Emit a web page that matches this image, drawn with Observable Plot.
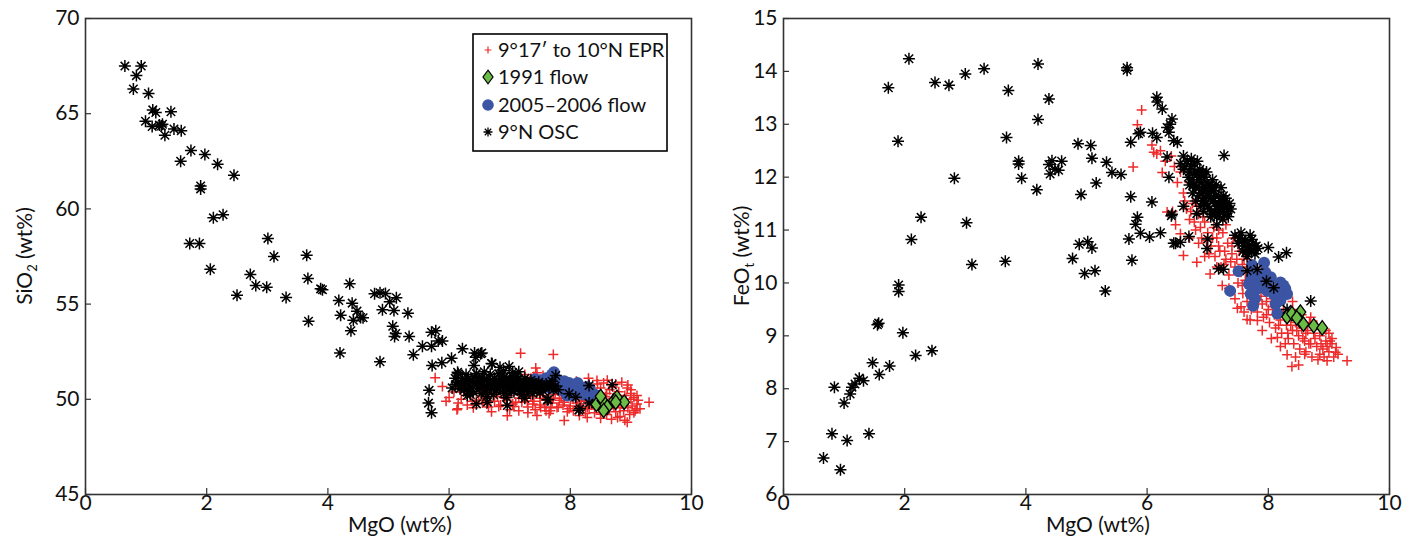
<!DOCTYPE html>
<html><head><meta charset="utf-8">
<script src="https://cdn.jsdelivr.net/npm/d3@7"></script>
<script src="https://cdn.jsdelivr.net/npm/@observablehq/plot@0.6"></script>
<style>
html,body{margin:0;padding:0;background:#fff;}
#wrap{display:flex;width:1415px;height:542px;overflow:hidden;}
svg{display:block;}
</style></head><body><div id="wrap"></div>
<script>
const FONT = "Lato, 'Open Sans', 'DejaVu Sans', sans-serif";
const mgoTicks = [0, 2, 4, 6, 8, 10];
const sio2Ticks = [45, 50, 55, 60, 65, 70];
const feoTicks = [6, 7, 8, 9, 10, 11, 12, 13, 14, 15];
const seriesNames = ["9°17′ to 10°N EPR", "1991 flow", "2005–2006 flow", "9°N OSC"];
const xLabel = "MgO (wt%)";

// ---- Left panel: [MgO, SiO2] ----
const eprSiO2 = [
[7.18,52.42],[7.72,52.35],[9.30,49.85],[5.77,51.13],[5.89,50.67],[6.13,49.45],[6.14,49.5],[7.90,48.89],[8.94,48.8],[7.43,51.65],
[7.45,51.4],[7.40,51.2],[7.18,50.25],[7.34,50.79],[6.49,49.94],[6.63,49.94],[6.82,49.62],[7.07,49.62],[7.15,49.4],[7.67,49.4],
[7.78,49.57],[8.05,49.4],[8.28,49.05],[8.31,49.49],[8.44,50.99],[8.61,51.0],[8.94,50.6],[9.0,50.3],[9.1,49.5],[8.78,49.05],
[8.5,49.22],[7.51,49.57],[7.29,49.9],[6.24,50.38],[6.30,50.8],[6.08,50.38],[6.96,49.14],[9.07,49.4],
[6.2,50.0],[6.3,49.7],[6.35,50.3],[6.45,49.95],[6.5,50.4],[6.55,49.8],[6.6,50.1],[6.65,49.6],[6.7,50.3],[6.75,49.9],
[6.8,50.15],[6.85,49.7],[6.9,50.4],[6.95,49.95],[7.0,50.2],[7.05,49.75],[7.1,50.5],[7.15,50.05],[7.2,49.85],[7.25,50.35],
[7.3,49.6],[7.35,50.15],[7.4,49.9],[7.45,50.4],[7.5,49.7],[7.55,50.2],[7.6,49.95],[7.65,50.45],[7.7,49.8],[7.75,50.25],
[7.8,49.6],[7.85,50.05],[7.9,49.85],[7.95,50.3],[8.0,49.65],[8.05,50.0],[8.1,49.8],[8.15,50.15],[8.2,49.55],[8.25,49.95],
[8.3,50.25],[8.35,49.7],[8.4,50.45],[8.45,49.9],[8.5,50.6],[8.55,49.65],[8.6,50.3],[8.65,49.5],[8.7,50.05],[8.75,49.35],
[8.8,50.4],[8.85,49.75],[8.9,50.2],[8.95,49.55],[9.0,50.0],[9.05,49.3],[9.1,49.75],[9.15,49.5],[8.4,49.3],[8.6,49.2],
[8.82,49.1],[8.98,49.2],[8.5,49.0],[7.3,49.3],[7.0,49.45],[6.7,49.35],[6.4,49.55],[6.15,49.8],[7.6,49.4],[7.95,49.35],
[8.25,49.25],[6.9,50.6],[7.2,50.65],[7.5,50.55],[7.8,50.75],[8.1,50.95],[8.3,51.1],[8.55,50.85],[8.7,50.65],[8.85,50.9],
[9.0,50.5],[6.55,50.55],[6.25,50.45],[7.1,51.0],[7.35,51.1],[7.55,51.25],[7.25,51.3],[6.0,50.1],[5.95,49.9],[8.15,49.15],
[8.68,48.95],[8.9,48.9],[7.45,49.15],[8.45,50.8],[8.75,50.8],[8.95,50.75],[9.1,50.2],[8.2,50.7],[7.65,49.25],[8.62,49.75],
[8.72,49.6],[8.88,49.4],[8.52,49.45],[8.36,49.95],[8.8,50.1],[9.02,49.65],
[7.38,49.75],[7.58,49.6],[7.72,50.05],[7.88,49.7],[8.02,50.2],[8.18,49.9],[8.28,49.6],[8.42,50.05],[8.58,50.15],[8.68,49.85],
[8.82,49.55],[8.92,50.0],[9.05,50.1],[8.48,49.55],[8.35,50.45],[7.98,49.5],[7.82,49.95],[7.5,50.05],[7.28,50.15],[7.1,49.85],
[6.92,50.05],[6.62,49.75],[6.38,49.9],[8.78,49.95],[8.65,50.5],[9.12,49.95],[8.12,49.6],[7.68,49.55],[7.42,49.45],[8.55,49.3]
];
const flow1991SiO2 = [
[8.43,49.73],[8.53,49.94],[8.61,49.59],[8.55,49.41],[8.72,49.94],[8.77,50.1],[8.89,49.85],[8.5,50.15],[8.75,49.85]
];
const flow2005SiO2 = [
[7.45,50.85],[7.5,51.0],[7.55,50.75],[7.6,51.1],[7.65,50.9],[7.7,51.3],[7.73,51.42],[7.75,51.1],[7.78,50.8],[7.8,51.0],
[7.85,50.7],[7.9,50.95],[7.95,50.6],[7.98,50.85],[8.0,50.45],[8.05,50.7],[8.1,50.55],[8.12,50.85],[8.15,50.35],[8.2,50.6],
[8.25,50.45],[8.3,50.3],[8.32,50.55],[7.62,50.65],[7.88,50.45],[8.05,50.2],[7.42,51.05],[7.68,50.6],[8.35,50.0],[7.95,50.2],[8.4,50.25],
[7.58,50.95],[7.84,50.9],[8.08,50.4],[8.22,50.25],[7.92,50.75],[8.28,50.65]
];
const oscSiO2 = [
[0.65,67.5],[0.92,67.5],[0.84,67.0],[0.79,66.3],[1.04,66.06],[1.11,65.2],[1.16,65.06],[1.41,65.1],[0.99,64.6],[1.10,64.33],
[1.22,64.4],[1.27,64.45],[1.25,64.35],[1.31,63.87],[1.46,64.2],[1.58,64.1],[1.74,63.07],[1.97,62.86],[1.57,62.5],[2.18,62.35],
[2.45,61.77],[1.90,61.2],[1.90,61.05],[2.11,59.53],[2.27,59.69],[1.72,58.18],[1.88,58.18],[3.01,58.45],[3.11,57.5],[3.65,57.57],
[2.06,56.83],[2.72,56.55],[2.81,55.98],[2.99,55.89],[2.50,55.47],[3.31,55.35],[3.67,56.34],[3.88,55.8],[3.91,55.75],[4.36,56.07],
[4.18,55.19],[4.40,55.05],[4.77,55.54],[4.86,55.6],[4.95,55.56],[5.13,55.33],[5.02,55.12],[4.90,54.7],[5.09,54.66],[4.21,54.42],
[4.48,54.63],[4.54,54.3],[4.42,54.15],[4.58,54.28],[4.38,53.6],[4.20,52.43],[4.86,51.97],[5.07,53.84],[5.12,53.46],[5.10,53.3],
[5.32,54.52],[5.34,53.3],[5.56,52.79],[5.41,52.34],[5.71,53.52],[5.78,53.6],[5.82,53.06],[5.89,53.06],[5.71,52.79],[5.72,51.78],
[5.88,51.92],[6.04,52.15],[6.22,52.65],[5.67,50.47],[5.66,49.8],[5.71,49.3],[3.68,54.1],
[6.14,51.42],[6.44,52.21],[6.52,52.39],[6.41,51.78],[6.71,51.87],[6.84,51.68],[6.99,51.72],[6.45,49.76],[6.30,50.2],[6.63,49.85],
[6.96,49.67],[7.62,49.97],[7.76,51.25],[7.45,50.81],[7.98,50.29],[8.09,50.11],[8.16,49.5],[8.31,50.72],[8.31,49.8],[8.69,50.76],
[8.42,49.76],[6.11,50.79],[6.15,51.34],[6.42,52.43],[6.54,52.43],[6.70,51.88],[7.64,49.99],[8.14,49.43],
[6.15,50.9],[6.2,50.7],[6.22,51.0],[6.25,50.5],[6.3,50.85],[6.32,51.1],[6.35,50.6],[6.38,50.95],[6.4,50.4],[6.42,51.2],
[6.45,50.75],[6.48,51.0],[6.5,50.55],[6.52,50.85],[6.55,51.15],[6.58,50.7],[6.6,50.35],[6.62,51.0],[6.65,50.8],[6.68,51.3],
[6.7,50.6],[6.72,50.95],[6.75,51.1],[6.78,50.45],[6.8,50.8],[6.82,51.35],[6.85,50.65],[6.87,51.0],[6.9,50.3],[6.92,51.2],
[6.95,50.85],[6.97,50.55],[7.0,51.05],[7.02,50.75],[7.05,51.4],[7.07,50.4],[7.1,50.9],[7.12,51.2],[7.15,50.6],[7.18,50.95],
[7.2,50.25],[7.22,50.8],[7.25,51.1],[7.28,50.5],[7.3,50.85],[7.33,50.65],[7.35,51.0],[7.38,50.3],[7.4,50.75],[7.45,50.55],
[7.48,50.9],[7.52,50.7],[7.55,50.45],[7.6,50.8],[7.65,50.6],[7.7,50.95],[7.75,50.7],[7.8,50.5],[6.05,50.6],[6.1,51.1],
[6.58,51.45],[6.9,51.5],[7.15,51.45],[6.35,50.25],[6.62,50.15],[6.95,50.1],[7.25,50.05],[6.28,51.3],[7.0,50.6],[6.75,50.7],
[6.18,50.55],[6.27,50.95],[6.33,50.4],[6.47,50.85],[6.53,50.3],[6.57,51.05],[6.63,50.55],[6.67,50.95],[6.73,50.25],[6.77,50.85],
[6.83,50.55],[6.88,50.85],[6.93,50.65],[6.98,50.95],[7.03,50.45],[7.08,50.7],[7.13,51.05],[7.17,50.45],[7.23,50.6],[7.27,50.9],
[7.32,50.4],[7.37,50.85],[7.42,50.6],[7.5,50.35],[7.57,50.7],[7.68,50.8],[7.72,50.5],[6.85,51.2],[7.05,51.2],[6.45,51.35]
];

// ---- Right panel: [MgO, FeOt] ----
const eprFeO = [
[5.91,13.27],[5.84,12.99],[6.08,12.61],[6.16,12.44],[6.22,12.5],[5.77,12.19],[6.25,12.09],[6.33,11.34],[6.55,10.93],[6.60,10.52],
[6.82,10.39],[7.04,10.17],[7.24,9.95],[7.49,9.52],[7.65,9.31],[7.82,9.29],[8.15,8.97],[8.31,8.64],[8.39,8.42],[8.50,8.45],
[9.30,8.53],[9.11,8.69],[8.97,8.53],[6.11,12.47],
[6.6,11.7],[6.65,11.4],[6.7,11.2],[6.75,11.5],[6.8,11.0],[6.85,11.3],[6.9,10.85],[6.95,11.15],[7.0,10.95],[7.05,10.7],
[7.1,11.05],[7.12,10.5],[7.15,10.85],[7.2,10.6],[7.22,10.3],[7.25,10.95],[7.3,10.45],[7.33,10.75],[7.35,10.15],[7.4,10.55],
[7.42,10.85],[7.45,10.3],[7.5,10.0],[7.52,10.6],[7.55,10.2],[7.58,9.8],[7.6,10.45],[7.62,10.05],[7.65,9.65],[7.68,10.3],
[7.7,9.9],[7.72,9.5],[7.75,10.1],[7.8,9.75],[7.82,9.45],[7.85,10.0],[7.9,9.6],[7.92,9.35],[7.95,9.85],[8.0,9.5],
[8.02,9.25],[8.05,9.7],[8.1,9.4],[8.12,9.15],[8.15,9.6],[8.2,9.3],[8.22,9.05],[8.25,9.5],[8.3,9.2],[8.33,8.95],
[8.35,9.35],[8.4,9.1],[8.42,8.85],[8.45,9.25],[8.5,9.0],[8.52,8.75],[8.55,9.15],[8.6,8.9],[8.62,8.7],[8.65,9.1],
[8.7,8.85],[8.72,8.6],[8.75,9.05],[8.8,8.8],[8.82,8.55],[8.85,9.0],[8.9,8.75],[8.92,8.6],[8.95,8.9],[9.0,8.7],
[9.05,8.85],[9.08,8.6],[9.12,8.78],[8.68,9.25],[8.9,9.15],[9.0,9.05],[8.4,9.5],[8.1,9.85],[7.8,10.3],[7.5,10.8],
[7.3,11.1],[7.05,11.3],[6.9,11.6],[6.7,11.9],[6.45,12.2],[6.4,12.4],[6.3,12.3],[6.5,11.9],[6.55,12.1],[7.45,9.7],
[7.6,9.45],[7.35,9.9],[7.55,9.55],[7.7,9.3],[7.15,10.3],[6.95,10.5],[6.85,10.75],[6.7,10.85],[8.0,10.05],[8.25,9.75],
[8.55,9.4],[8.8,9.2],[7.9,9.1],[8.05,8.95],[8.2,8.8],[8.45,8.6],[6.47,11.1],[6.42,11.35],
[6.62,11.55],[6.72,11.35],[6.78,11.15],[6.88,11.05],[6.98,10.8],[7.08,10.85],[7.18,10.7],[7.28,10.6],[7.38,10.4],[7.48,10.45],
[7.57,10.35],[7.63,10.2],[7.73,10.0],[7.83,9.85],[7.88,9.75],[7.97,9.65],[8.07,9.55],[8.17,9.45],[8.27,9.35],[8.37,9.2],
[8.47,9.1],[8.57,8.95],[8.67,8.85],[8.77,8.95],[8.87,8.85],[8.97,8.8],[9.02,8.9],[8.62,9.05],[8.32,9.05],[8.17,9.2],
[7.97,9.4],[7.77,9.6],[7.57,9.95],[7.27,10.35],[7.02,10.55],[6.92,11.25],[6.82,11.45],[7.18,11.0],[7.4,10.7],[7.62,10.6],
[7.9,10.15],[8.15,9.95],[8.4,9.65],[8.7,9.35],[8.95,9.1],[9.05,8.95],[8.28,8.85],[8.6,8.65],[8.85,8.65],[9.15,8.65]
];
const flow1991FeO = [
[8.31,9.36],[8.39,9.42],[8.53,9.45],[8.52,9.29],[8.58,9.22],[8.75,9.19],[8.89,9.15],[8.47,9.34]
];
const flow2005FeO = [
[7.51,10.22],[7.37,9.85],[7.73,10.34],[7.93,10.38],[7.76,10.17],[7.82,10.05],[8.04,10.11],[8.20,10.01],[8.28,9.89],[8.31,9.79],
[7.71,9.79],[7.75,9.57],[8.15,9.42],[8.20,9.67],[7.98,9.85],[7.87,9.92],[8.09,9.79],[7.68,9.98],[8.25,9.95],[7.78,9.7],
[8.12,9.6],[7.95,10.2],[7.9,10.1],[8.0,9.95],[8.17,9.85],[7.8,9.88],[7.72,10.1]
];
const oscFeO = [
[2.07,14.24],[1.73,13.69],[2.50,13.79],[2.73,13.74],[3.00,13.95],[3.31,14.05],[4.20,14.14],[3.71,13.64],[4.38,13.48],[4.20,13.09],
[1.89,12.68],[3.68,12.75],[4.86,12.63],[5.07,12.6],[5.09,12.36],[3.88,12.30],[3.88,12.25],[4.38,12.24],[4.43,12.31],[4.59,12.30],
[4.48,12.15],[4.40,12.06],[4.54,12.13],[2.82,11.98],[3.93,11.98],[4.18,11.76],[4.91,11.67],[5.16,11.89],[2.27,11.24],[3.02,11.14],
[2.11,10.82],[4.88,10.73],[5.02,10.78],[5.09,10.66],[4.77,10.46],[3.11,10.35],[3.66,10.41],[4.97,10.18],[5.14,10.23],[1.90,9.96],
[1.90,9.84],[1.57,9.24],[1.55,9.21],[1.97,9.06],[2.18,8.63],[2.45,8.72],[1.47,8.49],[1.75,8.43],[1.58,8.27],[1.25,8.20],
[1.32,8.15],[1.18,8.09],[1.13,8.03],[0.84,8.03],[1.10,7.90],[1.00,7.73],[0.80,7.15],[1.05,7.02],[1.41,7.15],[0.66,6.69],
[0.94,6.47],[5.67,14.07],[5.67,14.02],[6.16,13.51],[6.17,13.42],[6.25,13.29],[5.89,12.85],[5.86,12.82],[5.73,12.66],[6.16,12.75],
[6.33,12.94],[6.41,13.10],[6.36,12.85],[6.44,12.69],[6.33,12.38],[5.33,12.28],[5.42,12.09],[5.57,12.05],[5.73,11.63],[6.08,11.53],
[6.36,12.0],[6.40,11.27],[5.84,11.24],[5.81,11.11],[5.70,10.83],[5.89,10.94],[6.04,10.87],[6.22,10.95],[6.44,10.75],[6.55,10.77],
[6.69,10.88],[5.75,10.43],[5.31,9.85],[7.27,12.41],[6.47,10.75],[6.41,11.3],[6.60,11.45],[6.82,11.31],[6.99,10.65],[7.00,10.83],
[7.18,10.27],[7.26,10.26],[7.65,10.23],[7.82,10.26],[7.97,10.03],[8.09,9.91],[8.31,9.5],[8.70,9.66],[8.0,10.67],[8.17,10.49],
[8.3,10.57],[6.55,12.26],[6.60,12.15],[6.38,13.0],[6.09,12.83],[6.50,12.66],
[6.66,12.3],[6.7,12.1],[6.72,12.2],[6.75,11.95],[6.78,12.25],[6.8,11.8],[6.82,12.05],[6.85,11.65],[6.87,12.15],[6.9,11.9],
[6.92,11.55],[6.95,12.0],[6.97,11.75],[7.0,11.45],[7.02,11.85],[7.05,11.6],[7.07,11.3],[7.1,11.75],[7.12,11.5],[7.15,11.25],
[7.18,11.65],[7.2,11.4],[7.23,11.55],[7.25,11.2],[7.28,11.45],[7.3,11.6],[7.33,11.35],[7.36,11.5],[6.75,11.7],[6.88,11.45],
[6.98,12.1],[7.08,11.95],[6.83,12.3],[6.7,11.85],[7.15,11.1],[7.05,11.25],[6.93,11.35],[7.22,11.8],[6.8,11.55],[6.6,12.4],
[6.62,12.2],
[6.68,12.0],[6.73,12.35],[6.77,11.85],[6.84,11.95],[6.89,12.05],[6.91,11.7],[6.94,11.8],[6.96,11.6],[6.99,11.9],[7.01,11.65],
[7.03,11.4],[7.06,11.8],[7.09,11.55],[7.11,11.35],[7.13,11.65],[7.16,11.45],[7.19,11.3],[7.21,11.55],[7.24,11.4],[7.27,11.3],
[7.31,11.45],[7.34,11.25],[7.38,11.4],[6.86,11.8],[6.95,11.5],[7.04,11.7],[6.79,12.1],[6.92,12.1],[7.14,11.85],[7.26,11.65],
[7.45,10.9],[7.5,10.75],[7.55,10.95],[7.58,10.6],[7.62,10.8],[7.65,10.5],[7.68,10.7],[7.7,10.9],[7.72,10.6],[7.75,10.75],
[7.78,10.55],[7.8,10.7],[7.83,10.65],[7.6,10.7],[7.52,10.85],[7.67,10.62],[7.57,10.8],[7.73,10.82],[7.63,10.58],[7.77,10.62]
];

const RED = "#ee2a2a", BLUE = "#3b54a3", GREEN = "#6cbb46", BLACK = "#000";

const asteriskSym = {draw(ctx, size) {
  const r = Math.sqrt(size / Math.PI), d = r * Math.SQRT1_2;
  ctx.moveTo(-r, 0); ctx.lineTo(r, 0); ctx.moveTo(0, -r); ctx.lineTo(0, r);
  ctx.moveTo(-d, -d); ctx.lineTo(d, d); ctx.moveTo(-d, d); ctx.lineTo(d, -d);
}};
const plusSym = {draw(ctx, size) {
  const r = Math.sqrt(size / Math.PI);
  ctx.moveTo(-r, 0); ctx.lineTo(r, 0); ctx.moveTo(0, -r); ctx.lineTo(0, r);
}};
const diamondSym = {draw(ctx, size) {
  const r = Math.sqrt(size / Math.PI), w = r * 0.74;
  ctx.moveTo(0, -r); ctx.lineTo(w, 0); ctx.lineTo(0, r); ctx.lineTo(-w, 0); ctx.closePath();
}};

function panel({width, mLeft, mRight, yDomain, yTicks, epr, f1991, f2005, osc}) {
  const mTop = 18, mBottom = 48, height = 542;
  const innerH = height - mTop - mBottom, innerW = width - mLeft - mRight;
  const xy = {x: d => d[0], y: d => d[1]};
  return Plot.plot({
    width, height, marginLeft: mLeft, marginRight: mRight, marginTop: mTop, marginBottom: mBottom,
    style: {fontFamily: FONT, fontSize: "21px", color: "#111", background: "white", overflow: "visible"},
    x: {domain: [0, 10]},
    y: {domain: yDomain},
    marks: [
      Plot.axisX(mgoTicks, {tickSize: 0, tickPadding: 1, fontSize: 21, tickFormat: d => String(d), label: null}),
      Plot.axisY(yTicks, {tickSize: 0, tickPadding: 6, fontSize: 21, tickFormat: d => String(d), label: null}),
      Plot.tickX(mgoTicks, {x: d => d, insetTop: innerH - 6, stroke: "#333", strokeWidth: 1.2}),
      Plot.tickY(yTicks, {y: d => d, insetRight: innerW - 6, stroke: "#333", strokeWidth: 1.2}),
      Plot.dot(epr, {...xy, symbol: plusSym, r: 5, fill: "none", stroke: RED, strokeWidth: 1.5}),
      Plot.dot(f2005, {...xy, symbol: "circle", r: 6, fill: BLUE, stroke: "none"}),
      Plot.dot(osc, {...xy, symbol: asteriskSym, r: 6, fill: "none", stroke: BLACK, strokeWidth: 1.5}),
      Plot.dot(f1991, {...xy, symbol: diamondSym, r: 7.2, fill: GREEN, stroke: BLACK, strokeWidth: 1.3}),
      Plot.frame({stroke: "#333", strokeWidth: 1.6})
    ]
  });
}

const left = panel({width: 707, mLeft: 85, mRight: 16, yDomain: [45, 70], yTicks: sio2Ticks,
  epr: eprSiO2, f1991: flow1991SiO2, f2005: flow2005SiO2, osc: oscSiO2});
const right = panel({width: 708, mLeft: 76, mRight: 26, yDomain: [6, 15], yTicks: feoTicks,
  epr: eprFeO, f1991: flow1991FeO, f2005: flow2005FeO, osc: oscFeO});

const wrap = document.getElementById("wrap");
wrap.appendChild(left);
wrap.appendChild(right);

function addLabels(svgNode, xCenter, yLabelX, yMain, ySub) {
  const s = d3.select(svgNode);
  s.append("text").attr("x", xCenter).attr("y", 532).attr("text-anchor", "middle")
    .attr("font-family", FONT).attr("font-size", 21).attr("fill", "#111").text(xLabel);
  const t = s.append("text").attr("transform", `translate(${yLabelX},256) rotate(-90)`)
    .attr("text-anchor", "middle").attr("font-family", FONT).attr("font-size", 21).attr("fill", "#111");
  t.append("tspan").text(yMain);
  t.append("tspan").attr("font-size", 13).attr("dy", 5).text(ySub);
  t.append("tspan").attr("dy", -5).text(" (wt%)");
}
addLabels(left, 400, 32, "SiO", "2");
addLabels(right, 391, 42, "FeO", "t");

// Legend in left panel
{
  const s = d3.select(left);
  const g = s.append("g").attr("font-family", FONT).attr("font-size", 20).attr("fill", "#111")
    .attr("text-anchor", "start");
  g.append("rect").attr("x", 473).attr("y", 34).attr("width", 194).attr("height", 117)
    .attr("fill", "white").attr("stroke", "#000").attr("stroke-width", 1.6);
  const items = [
    {sym: plusSym, size: Math.PI * 3.4 * 3.4, fill: "none", stroke: RED, sw: 1.2},
    {sym: diamondSym, size: Math.PI * 6.8 * 6.8, fill: GREEN, stroke: BLACK, sw: 1.2},
    {sym: d3.symbolCircle, size: Math.PI * 5.8 * 5.8, fill: BLUE, stroke: "none", sw: 0},
    {sym: asteriskSym, size: Math.PI * 4.5 * 4.5, fill: "none", stroke: BLACK, sw: 1.3}
  ];
  const ys = [50, 77, 105, 132];
  items.forEach((it, i) => {
    g.append("path").attr("d", d3.symbol(it.sym, it.size)())
      .attr("transform", `translate(488,${ys[i]})`)
      .attr("fill", it.fill).attr("stroke", it.stroke).attr("stroke-width", it.sw);
    g.append("text").attr("x", 498).attr("y", ys[i]).attr("dy", "0.35em")
      .attr("text-anchor", "start").text(seriesNames[i]);
  });
}
</script></body></html>
